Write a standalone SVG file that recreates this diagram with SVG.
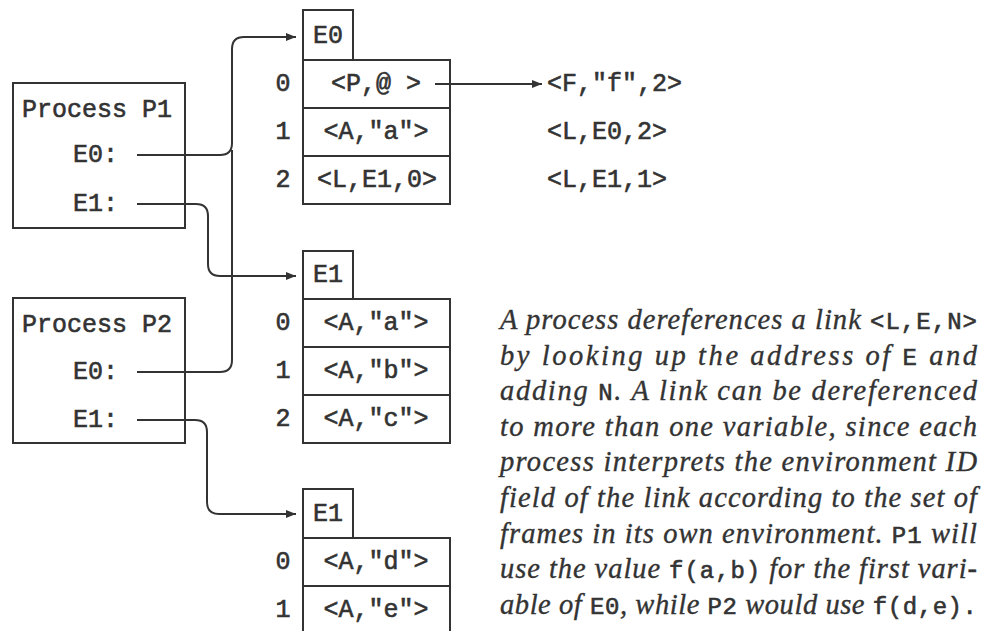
<svg xmlns="http://www.w3.org/2000/svg" width="990" height="631" viewBox="0 0 990 631">
<defs>
<marker id="arr" markerWidth="10" markerHeight="8" refX="10" refY="4" orient="auto" markerUnits="userSpaceOnUse">
<path d="M0,0 L10,4 L0,8 Z" fill="#333"/>
</marker>
</defs>
<style>
.box{fill:none;stroke:#333;stroke-width:2}
.mono{font-family:"Liberation Mono","DejaVu Sans Mono",monospace;font-size:25px;fill:#333;stroke:#333;stroke-width:0.6}
.c{text-anchor:middle}
.r{text-anchor:end}
.ln{fill:none;stroke:#333;stroke-width:2}
.para{font-family:"Liberation Serif","DejaVu Serif",serif;font-style:italic;font-size:28.5px;fill:#333;stroke:#333;stroke-width:0.35}
.pm{font-family:"Liberation Mono","DejaVu Sans Mono",monospace;font-style:normal;font-size:24px;stroke-width:0.6}
</style>
<rect width="990" height="631" fill="#fff"/>

<g id="P1">
<rect class="box" x="13" y="83" width="172" height="145"/>
<text class="mono" x="22" y="117">Process P1</text>
<text class="mono r" x="118" y="162">E0:</text>
<text class="mono r" x="118" y="211">E1:</text>
</g>

<g id="P2">
<rect class="box" x="13" y="298" width="172" height="145"/>
<text class="mono" x="22" y="332">Process P2</text>
<text class="mono r" x="118" y="379">E0:</text>
<text class="mono r" x="118" y="427">E1:</text>
</g>

<g id="frameE0">
<rect class="box" x="303" y="10" width="50" height="50"/>
<text class="mono c" x="328" y="43">E0</text>
<rect class="box" x="303" y="60" width="147" height="144"/>
<line class="box" x1="303" y1="108" x2="450" y2="108"/>
<line class="box" x1="303" y1="156" x2="450" y2="156"/>
<text class="mono c" x="283" y="91">0</text>
<text class="mono c" x="283" y="139">1</text>
<text class="mono c" x="283" y="187">2</text>
<text class="mono c" x="376" y="91">&lt;P,@ &gt;</text>
<text class="mono c" x="376" y="139">&lt;A,"a"&gt;</text>
<text class="mono c" x="377" y="187">&lt;L,E1,0&gt;</text>
</g>

<g id="values">
<text class="mono" x="547" y="91">&lt;F,"f",2&gt;</text>
<text class="mono" x="547" y="139">&lt;L,E0,2&gt;</text>
<text class="mono" x="547" y="187">&lt;L,E1,1&gt;</text>
</g>

<g id="frameE1a">
<rect class="box" x="303" y="251" width="50" height="48"/>
<text class="mono c" x="328" y="282">E1</text>
<rect class="box" x="303" y="299" width="147" height="144"/>
<line class="box" x1="303" y1="347" x2="450" y2="347"/>
<line class="box" x1="303" y1="395" x2="450" y2="395"/>
<text class="mono c" x="283" y="330">0</text>
<text class="mono c" x="283" y="378">1</text>
<text class="mono c" x="283" y="426">2</text>
<text class="mono c" x="376" y="330">&lt;A,"a"&gt;</text>
<text class="mono c" x="376" y="378">&lt;A,"b"&gt;</text>
<text class="mono c" x="376" y="426">&lt;A,"c"&gt;</text>
</g>

<g id="frameE1b">
<rect class="box" x="303" y="489" width="50" height="49"/>
<text class="mono c" x="328" y="521">E1</text>
<rect class="box" x="303" y="538" width="147" height="100"/>
<line class="box" x1="303" y1="586" x2="450" y2="586"/>
<text class="mono c" x="283" y="569">0</text>
<text class="mono c" x="283" y="617">1</text>
<text class="mono c" x="376" y="569">&lt;A,"d"&gt;</text>
<text class="mono c" x="376" y="617">&lt;A,"e"&gt;</text>
</g>

<g id="connectors">
<path class="ln" d="M137,155 H220 Q232,155 232,143 V49 Q232,37 244,37 H296" marker-end="url(#arr)"/>
<path class="ln" d="M137,372 H220 Q232,372 232,360 V150"/>
<path class="ln" d="M137,204 H196 Q208,204 208,216 V264 Q208,276 220,276 H296" marker-end="url(#arr)"/>
<path class="ln" d="M137,420 H195 Q207,420 207,432 V502 Q207,514 219,514 H296" marker-end="url(#arr)"/>
<path class="ln" d="M435,84 H542" marker-end="url(#arr)"/>
</g>

<g id="caption" class="para">
<text x="500" y="329" textLength="477" lengthAdjust="spacing">A process dereferences a link <tspan class="pm">&lt;L,E,N&gt;</tspan></text>
<text x="500" y="364.6" textLength="477" lengthAdjust="spacing">by looking up the address of <tspan class="pm">E</tspan> and</text>
<text x="500" y="400.2" textLength="477" lengthAdjust="spacing">adding <tspan class="pm">N</tspan>. A link can be dereferenced</text>
<text x="500" y="435.8" textLength="477" lengthAdjust="spacing">to more than one variable, since each</text>
<text x="500" y="471.4" textLength="477" lengthAdjust="spacing">process interprets the environment ID</text>
<text x="500" y="507" textLength="477" lengthAdjust="spacing">field of the link according to the set of</text>
<text x="500" y="542.6" textLength="477" lengthAdjust="spacing">frames in its own environment. <tspan class="pm">P1</tspan> will</text>
<text x="500" y="578.2" textLength="477" lengthAdjust="spacing">use the value <tspan class="pm">f(a,b)</tspan> for the first vari-</text>
<text x="500" y="613.8" textLength="477" lengthAdjust="spacing">able of <tspan class="pm">E0</tspan>, while <tspan class="pm">P2</tspan> would use <tspan class="pm">f(d,e).</tspan></text>
</g>
</svg>
